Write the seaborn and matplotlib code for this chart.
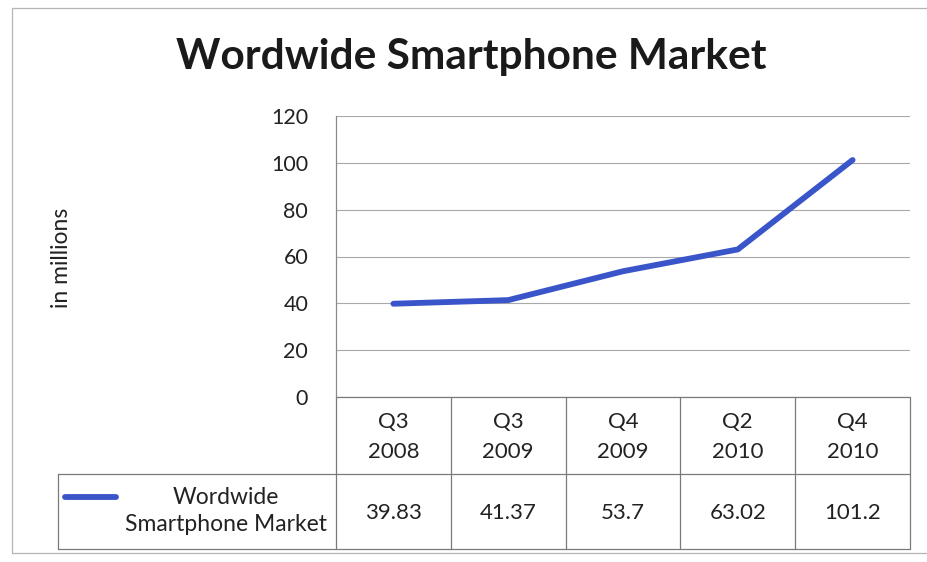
import matplotlib
matplotlib.use("Agg")
import matplotlib.pyplot as plt
from matplotlib.patches import Rectangle
from matplotlib.lines import Line2D
import seaborn as sns
import pandas as pd

# Shipments per quarter, in millions
quarters = ["Q3\n2008", "Q3\n2009", "Q4\n2009", "Q2\n2010", "Q4\n2010"]
shipments = [39.83, 41.37, 53.7, 63.02, 101.2]
value_labels = ["39.83", "41.37", "53.7", "63.02", "101.2"]
series_name = "Wordwide Smartphone Market"
y_ticks = [0, 20, 40, 60, 80, 100, 120]

sns.set_theme(style="white")
plt.rcParams["font.family"] = ["Lato", "DejaVu Sans"]

W, H = 928, 562
fig = plt.figure(figsize=(W / 100, H / 100), dpi=100)
fig.patch.set_facecolor("white")

def fx(px):
    return px / W

def fy(py):
    return 1 - py / H

ax_left, ax_right, ax_top, ax_bottom = 336, 910, 116, 397
ax = fig.add_axes([fx(ax_left), fy(ax_bottom), fx(ax_right - ax_left), (ax_bottom - ax_top) / H])

df = pd.DataFrame({"pos": range(len(quarters)), "value": shipments})
line_color = "#3a55c9"
sns.lineplot(data=df, x="pos", y="value", ax=ax, color=line_color, linewidth=4.2,
             solid_capstyle="round", solid_joinstyle="round")

ax.set_xlim(-0.5, len(quarters) - 0.5)
ax.set_ylim(0, 120)
ax.set_yticks(y_ticks)
ax.set_yticklabels([str(t) for t in y_ticks], fontsize=15.5, color="#222222")
ax.set_xticks([])
ax.set_xlabel("")
ax.set_ylabel("")
ax.tick_params(axis="y", length=0, pad=20)
ax.grid(axis="y", color="#a8a8a8", linewidth=0.8)
for side in ["top", "right", "bottom"]:
    ax.spines[side].set_visible(False)
ax.spines["left"].set_color("#8a8a8a")
ax.spines["left"].set_linewidth(0.9)

# Data table underneath the plot area
axh = ax_bottom - ax_top
row1_bot = -(474 - ax_bottom) / axh
row2_bot = -(549 - ax_bottom) / axh
legend_left = (58 - ax_left) / (ax_right - ax_left)
tc = "#7a7a7a"
tr = ax.get_xaxis_transform()
n = len(quarters)
for b in [i - 0.5 for i in range(n + 1)]:
    ax.add_line(Line2D([b, b], [0, row2_bot], transform=tr, color=tc, lw=0.9, clip_on=False))
for yv in [0, row1_bot, row2_bot]:
    ax.add_line(Line2D([-0.5, n - 0.5], [yv, yv], transform=tr, color=tc, lw=0.9, clip_on=False))
# legend cell
ta = ax.transAxes
ax.add_line(Line2D([legend_left, 0], [row1_bot, row1_bot], transform=ta, color=tc, lw=0.9, clip_on=False))
ax.add_line(Line2D([legend_left, 0], [row2_bot, row2_bot], transform=ta, color=tc, lw=0.9, clip_on=False))
ax.add_line(Line2D([legend_left, legend_left], [row1_bot, row2_bot], transform=ta, color=tc, lw=0.9, clip_on=False))

cat_y = -(437 - ax_bottom) / axh
val_y = -(513 - ax_bottom) / axh
for i, (q, v) in enumerate(zip(quarters, value_labels)):
    ax.text(i, cat_y, q, transform=tr, ha="center", va="center", fontsize=16,
            color="#222222", linespacing=1.6)
    ax.text(i, val_y, v, transform=tr, ha="center", va="center", fontsize=16, color="#222222")

# legend key and series name
fig.add_artist(Line2D([fx(65), fx(116)], [fy(497), fy(497)], color=line_color, lw=4.2,
                      solid_capstyle="round"))
fig.text(fx(226), fy(511), "Wordwide\nSmartphone Market", ha="center", va="center",
         fontsize=16.5, color="#222222", linespacing=1.4)

fig.text(fx(471), fy(57), series_name, ha="center", va="center", fontsize=30.5,
         fontweight="bold", color="#1a1a1a")
fig.text(fx(62), fy(258), "in millions", ha="center", va="center", rotation=90,
         fontsize=16.5, color="#222222")

# chart border
fig.add_artist(Rectangle((fx(12), fy(553)), fx(930 - 12), (553 - 8) / H, fill=False,
                         edgecolor="#b5b5b5", lw=0.9, transform=fig.transFigure))

fig.savefig("out.png", dpi=100)
